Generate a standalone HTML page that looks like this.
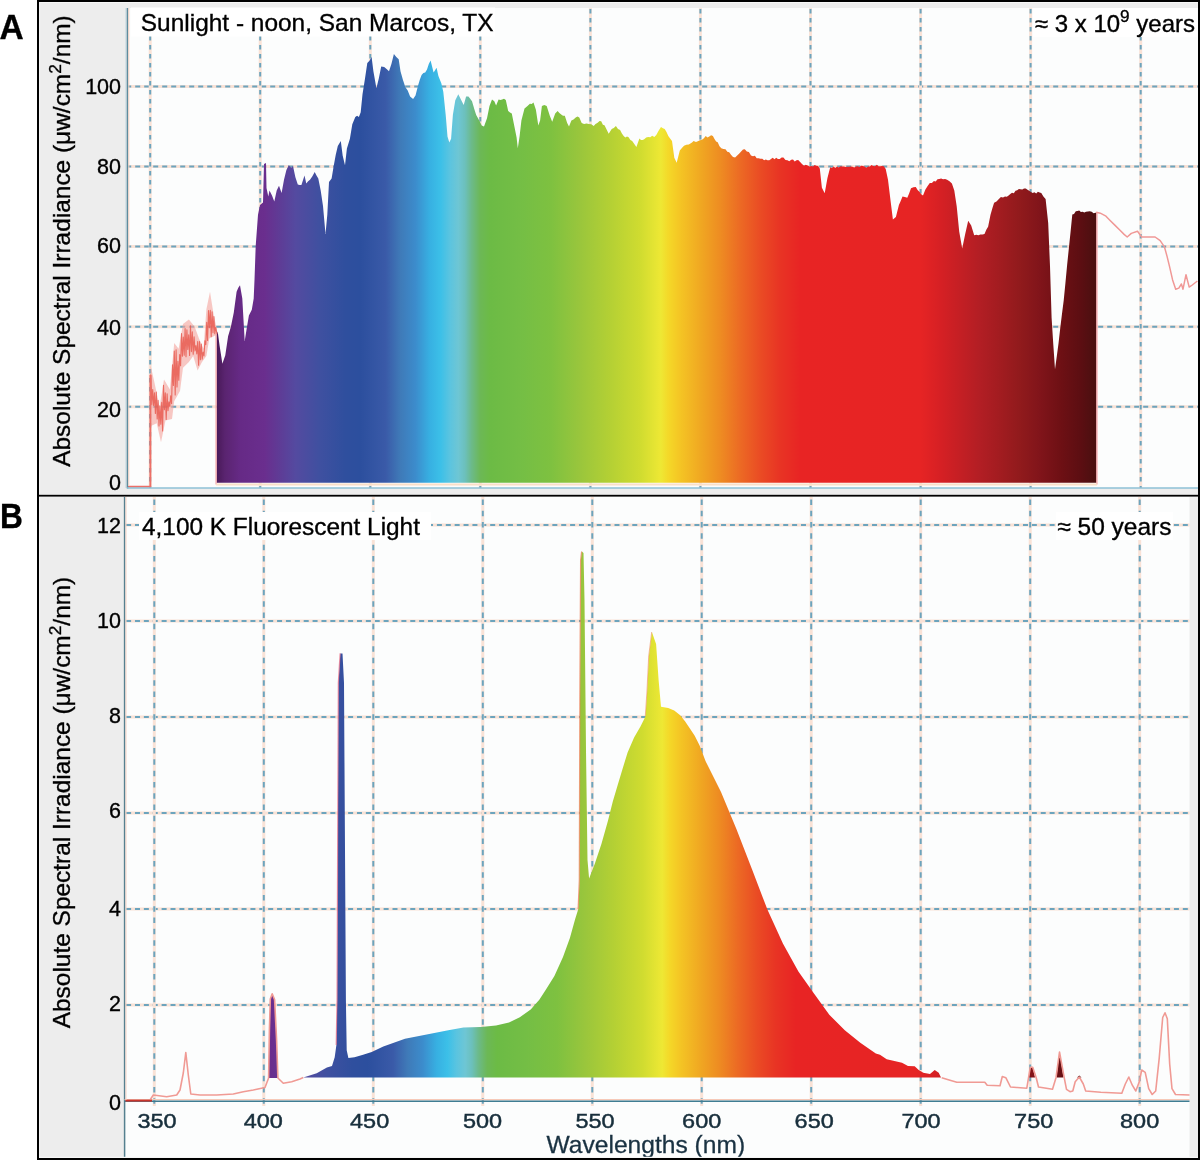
<!DOCTYPE html>
<html><head><meta charset="utf-8"><style>
html,body{margin:0;padding:0;background:#fff;width:1200px;height:1162px;overflow:hidden}
svg{display:block;filter:blur(0.4px);font-family:"Liberation Sans",sans-serif}
</style></head><body>
<svg width="1200" height="1162" viewBox="0 0 1200 1162">
<defs>
<linearGradient id="gA" gradientUnits="userSpaceOnUse" x1="216.2" y1="0" x2="1096.7" y2="0"><stop offset="0.0013" stop-color="#4a1a5a"/><stop offset="0.0100" stop-color="#5a2470"/><stop offset="0.0275" stop-color="#662a86"/><stop offset="0.0550" stop-color="#6a2e8e"/><stop offset="0.0725" stop-color="#5e3c96"/><stop offset="0.0900" stop-color="#544aa0"/><stop offset="0.1175" stop-color="#3f50a0"/><stop offset="0.1465" stop-color="#2f4f9e"/><stop offset="0.1638" stop-color="#2c4f9e"/><stop offset="0.1925" stop-color="#3a5aa8"/><stop offset="0.2090" stop-color="#3f7ab8"/><stop offset="0.2263" stop-color="#3c8ccc"/><stop offset="0.2425" stop-color="#37b0e2"/><stop offset="0.2550" stop-color="#3cc0e8"/><stop offset="0.2650" stop-color="#5ac4e0"/><stop offset="0.2750" stop-color="#6ec6d4"/><stop offset="0.2825" stop-color="#6cc0bc"/><stop offset="0.2900" stop-color="#6cba8a"/><stop offset="0.3000" stop-color="#6cb856"/><stop offset="0.3113" stop-color="#6cbb45"/><stop offset="0.3450" stop-color="#74be45"/><stop offset="0.3800" stop-color="#7ec140"/><stop offset="0.4138" stop-color="#9ac63c"/><stop offset="0.4475" stop-color="#b4d034"/><stop offset="0.4818" stop-color="#d0dc30"/><stop offset="0.5050" stop-color="#eee834"/><stop offset="0.5138" stop-color="#f4d828"/><stop offset="0.5275" stop-color="#f4c424"/><stop offset="0.5500" stop-color="#f0a822"/><stop offset="0.5725" stop-color="#ee8c22"/><stop offset="0.5950" stop-color="#ec6a24"/><stop offset="0.6175" stop-color="#ea4c24"/><stop offset="0.6400" stop-color="#e83424"/><stop offset="0.6637" stop-color="#e82424"/><stop offset="0.8000" stop-color="#e62424"/><stop offset="0.8225" stop-color="#d62024"/><stop offset="0.8450" stop-color="#c41f24"/><stop offset="0.8675" stop-color="#b21e24"/><stop offset="0.8900" stop-color="#a21c20"/><stop offset="0.9137" stop-color="#901a1c"/><stop offset="0.9363" stop-color="#80141a"/><stop offset="0.9590" stop-color="#6e1014"/><stop offset="0.9818" stop-color="#5c0e12"/><stop offset="0.9988" stop-color="#4a1010"/></linearGradient>
<linearGradient id="gB" gradientUnits="userSpaceOnUse" x1="220.0" y1="0" x2="1095.9" y2="0"><stop offset="0.0063" stop-color="#4a1a5a"/><stop offset="0.0150" stop-color="#5a2470"/><stop offset="0.0325" stop-color="#662a86"/><stop offset="0.0600" stop-color="#6a2e8e"/><stop offset="0.0775" stop-color="#5e3c96"/><stop offset="0.0950" stop-color="#544aa0"/><stop offset="0.1225" stop-color="#3f50a0"/><stop offset="0.1515" stop-color="#2f4f9e"/><stop offset="0.1688" stop-color="#2c4f9e"/><stop offset="0.1975" stop-color="#3a5aa8"/><stop offset="0.2140" stop-color="#3f7ab8"/><stop offset="0.2313" stop-color="#3c8ccc"/><stop offset="0.2475" stop-color="#37b0e2"/><stop offset="0.2600" stop-color="#3cc0e8"/><stop offset="0.2700" stop-color="#5ac4e0"/><stop offset="0.2800" stop-color="#6ec6d4"/><stop offset="0.2875" stop-color="#6cc0bc"/><stop offset="0.2950" stop-color="#6cba8a"/><stop offset="0.3050" stop-color="#6cb856"/><stop offset="0.3162" stop-color="#6cbb45"/><stop offset="0.3500" stop-color="#74be45"/><stop offset="0.3848" stop-color="#7ec140"/><stop offset="0.4172" stop-color="#9ac63c"/><stop offset="0.4496" stop-color="#b4d034"/><stop offset="0.4825" stop-color="#d0dc30"/><stop offset="0.5048" stop-color="#eee834"/><stop offset="0.5132" stop-color="#f4d828"/><stop offset="0.5264" stop-color="#f4c424"/><stop offset="0.5479" stop-color="#f0a822"/><stop offset="0.5695" stop-color="#ee8c22"/><stop offset="0.5910" stop-color="#ec6a24"/><stop offset="0.6126" stop-color="#ea4c24"/><stop offset="0.6342" stop-color="#e83424"/><stop offset="0.6575" stop-color="#e82424"/><stop offset="0.7937" stop-color="#e62424"/><stop offset="0.8163" stop-color="#d62024"/><stop offset="0.8387" stop-color="#c41f24"/><stop offset="0.8612" stop-color="#b21e24"/><stop offset="0.8838" stop-color="#a21c20"/><stop offset="0.9075" stop-color="#901a1c"/><stop offset="0.9300" stop-color="#80141a"/><stop offset="0.9528" stop-color="#6e1014"/><stop offset="0.9755" stop-color="#5c0e12"/><stop offset="0.9925" stop-color="#4a1010"/></linearGradient>
<filter id="gb" x="-5%" y="-5%" width="110%" height="110%"><feGaussianBlur stdDeviation="0.55"/></filter>
<clipPath id="cA"><rect x="128" y="8" width="1070" height="480"/></clipPath>
<clipPath id="cB"><rect x="125" y="497" width="1064.5" height="604.5"/></clipPath>
</defs>
<rect x="0" y="0" width="1200" height="1162" fill="#fff"/>
<rect x="39" y="2" width="1159" height="492.8" fill="#ededed"/>
<rect x="128" y="8" width="1070" height="480" fill="#fcfdfd"/>
<rect x="39" y="496.5" width="1159" height="661.5" fill="#ededed"/>
<rect x="125" y="497" width="1064.5" height="660" fill="#fcfdfd"/>
<g filter="url(#gb)"><line x1="128" y1="406.7" x2="1198" y2="406.7" stroke="#f9e2d6" stroke-width="3"/><line x1="128" y1="406.7" x2="1198" y2="406.7" stroke="#6ca4bd" stroke-width="2" stroke-dasharray="5 4" stroke-dashoffset="1.8"/><line x1="128" y1="326.7" x2="1198" y2="326.7" stroke="#f9e2d6" stroke-width="3"/><line x1="128" y1="326.7" x2="1198" y2="326.7" stroke="#6ca4bd" stroke-width="2" stroke-dasharray="5 4" stroke-dashoffset="1.8"/><line x1="128" y1="246.6" x2="1198" y2="246.6" stroke="#f9e2d6" stroke-width="3"/><line x1="128" y1="246.6" x2="1198" y2="246.6" stroke="#6ca4bd" stroke-width="2" stroke-dasharray="5 4" stroke-dashoffset="1.8"/><line x1="128" y1="166.6" x2="1198" y2="166.6" stroke="#f9e2d6" stroke-width="3"/><line x1="128" y1="166.6" x2="1198" y2="166.6" stroke="#6ca4bd" stroke-width="2" stroke-dasharray="5 4" stroke-dashoffset="1.8"/><line x1="128" y1="86.6" x2="1198" y2="86.6" stroke="#f9e2d6" stroke-width="3"/><line x1="128" y1="86.6" x2="1198" y2="86.6" stroke="#6ca4bd" stroke-width="2" stroke-dasharray="5 4" stroke-dashoffset="1.8"/><line x1="150.2" y1="8" x2="150.2" y2="488" stroke="#f9e2d6" stroke-width="3"/><line x1="150.2" y1="8" x2="150.2" y2="488" stroke="#6ca4bd" stroke-width="2" stroke-dasharray="4.6 4.4" stroke-dashoffset="-0.9"/><line x1="260.2" y1="8" x2="260.2" y2="488" stroke="#f9e2d6" stroke-width="3"/><line x1="260.2" y1="8" x2="260.2" y2="488" stroke="#6ca4bd" stroke-width="2" stroke-dasharray="4.6 4.4" stroke-dashoffset="-0.9"/><line x1="370.3" y1="8" x2="370.3" y2="488" stroke="#f9e2d6" stroke-width="3"/><line x1="370.3" y1="8" x2="370.3" y2="488" stroke="#6ca4bd" stroke-width="2" stroke-dasharray="4.6 4.4" stroke-dashoffset="-0.9"/><line x1="480.3" y1="8" x2="480.3" y2="488" stroke="#f9e2d6" stroke-width="3"/><line x1="480.3" y1="8" x2="480.3" y2="488" stroke="#6ca4bd" stroke-width="2" stroke-dasharray="4.6 4.4" stroke-dashoffset="-0.9"/><line x1="590.4" y1="8" x2="590.4" y2="488" stroke="#f9e2d6" stroke-width="3"/><line x1="590.4" y1="8" x2="590.4" y2="488" stroke="#6ca4bd" stroke-width="2" stroke-dasharray="4.6 4.4" stroke-dashoffset="-0.9"/><line x1="700.4" y1="8" x2="700.4" y2="488" stroke="#f9e2d6" stroke-width="3"/><line x1="700.4" y1="8" x2="700.4" y2="488" stroke="#6ca4bd" stroke-width="2" stroke-dasharray="4.6 4.4" stroke-dashoffset="-0.9"/><line x1="810.5" y1="8" x2="810.5" y2="488" stroke="#f9e2d6" stroke-width="3"/><line x1="810.5" y1="8" x2="810.5" y2="488" stroke="#6ca4bd" stroke-width="2" stroke-dasharray="4.6 4.4" stroke-dashoffset="-0.9"/><line x1="920.6" y1="8" x2="920.6" y2="488" stroke="#f9e2d6" stroke-width="3"/><line x1="920.6" y1="8" x2="920.6" y2="488" stroke="#6ca4bd" stroke-width="2" stroke-dasharray="4.6 4.4" stroke-dashoffset="-0.9"/><line x1="1030.6" y1="8" x2="1030.6" y2="488" stroke="#f9e2d6" stroke-width="3"/><line x1="1030.6" y1="8" x2="1030.6" y2="488" stroke="#6ca4bd" stroke-width="2" stroke-dasharray="4.6 4.4" stroke-dashoffset="-0.9"/><line x1="1140.7" y1="8" x2="1140.7" y2="488" stroke="#f9e2d6" stroke-width="3"/><line x1="1140.7" y1="8" x2="1140.7" y2="488" stroke="#6ca4bd" stroke-width="2" stroke-dasharray="4.6 4.4" stroke-dashoffset="-0.9"/></g>
<polygon points="216.7,482.8 216.7,334.4 217.7,331.5 219.6,345.8 222.4,363.8 225.3,355.2 228.1,336.3 230.9,326.8 233.8,312.6 236.6,291.8 238.3,287.8 240.0,285.2 242.3,298.4 244.7,341.0 247.0,326.8 248.9,315.5 251.8,309.8 253.7,298.4 254.5,279.8 255.7,246.0 258.0,214.7 260.0,205.0 263.0,202.6 264.0,164.0 266.0,163.0 266.5,188.0 268.3,196.6 269.5,190.6 272.0,195.4 274.3,201.4 276.7,190.6 279.0,185.8 281.6,193.0 284.0,179.8 286.4,170.0 288.8,165.3 291.2,167.7 293.0,166.0 295.4,177.3 297.8,184.6 299.6,184.9 301.4,185.0 304.5,175.5 306.3,183.4 308.1,181.3 310.0,179.8 312.4,176.2 314.7,172.0 316.5,175.6 318.3,178.5 320.7,190.6 323.0,206.0 325.5,234.0 327.3,214.7 329.0,182.0 331.6,178.5 333.6,166.5 335.7,155.1 337.8,146.0 340.8,141.0 342.7,155.7 345.0,165.3 346.9,148.4 349.9,138.8 352.3,124.3 355.3,117.0 357.1,115.7 358.9,117.0 360.7,112.3 362.5,94.2 365.0,78.5 367.3,62.9 369.5,60.8 371.6,56.9 373.4,71.3 376.4,88.2 378.8,78.5 381.2,66.5 384.2,67.1 386.6,68.9 389.0,71.3 391.4,64.1 393.9,53.9 396.3,56.9 398.7,59.3 400.5,71.3 402.9,79.8 405.3,87.0 407.7,90.6 410.1,96.6 413.1,99.0 415.5,95.4 418.0,85.8 419.8,79.7 421.6,74.9 423.4,73.0 425.2,72.5 427.0,69.6 428.8,64.1 430.6,60.5 433.6,72.5 436.6,67.7 438.4,76.1 441.4,83.4 443.3,91.8 445.7,114.7 447.5,136.4 449.3,142.4 451.1,138.8 452.9,114.7 455.3,100.2 458.3,94.2 461.3,100.2 463.7,105.0 466.1,96.6 468.4,96.5 470.2,98.8 472.0,101.3 474.5,109.8 476.2,114.9 478.0,118.2 479.9,121.7 481.7,125.4 484.0,126.6 487.0,118.2 489.5,106.0 492.0,99.5 494.3,101.3 496.1,105.5 498.6,99.5 500.4,99.9 502.2,99.5 504.0,98.8 505.8,100.0 508.2,111.0 510.0,112.6 511.8,113.4 514.2,125.4 516.6,137.5 517.8,148.3 519.6,136.3 521.4,120.6 524.5,108.6 527.5,106.1 529.9,103.7 531.7,104.1 533.5,102.5 535.9,109.8 538.3,125.4 540.1,120.6 541.9,106.1 544.3,105.0 546.7,106.1 549.8,115.8 552.2,121.8 555.2,113.4 557.6,111.0 559.4,112.9 561.2,114.6 563.0,115.8 564.8,115.8 567.2,123.0 569.0,126.6 571.4,120.6 573.5,119.5 575.7,117.6 577.5,116.5 579.3,117.6 581.7,123.0 584.1,124.0 586.5,123.6 588.9,124.1 591.3,124.2 593.7,126.0 595.5,124.0 597.3,123.0 599.6,121.0 601.2,121.2 602.9,124.8 604.5,125.3 606.6,129.4 608.7,133.7 611.7,129.0 613.8,128.1 615.9,126.0 618.0,129.0 620.1,130.0 621.9,133.6 623.7,136.0 625.3,137.5 627.0,136.6 628.6,137.3 630.4,139.9 632.2,141.0 634.3,143.9 636.4,147.0 639.4,138.6 641.0,139.9 642.6,140.0 644.2,139.2 646.2,137.5 648.2,137.0 650.2,137.3 652.2,135.8 654.3,137.0 656.3,135.0 658.6,130.8 661.0,127.0 662.9,128.3 664.7,129.0 666.5,132.0 668.3,136.0 670.1,138.5 672.0,141.0 674.3,157.8 676.7,162.7 679.8,150.6 681.9,147.9 684.0,145.8 686.4,144.8 688.8,144.6 690.4,143.6 692.0,142.4 693.6,141.0 696.0,142.1 698.4,141.0 700.2,140.2 702.0,139.7 703.9,138.3 705.7,136.1 707.5,137.4 709.3,136.5 711.1,135.2 712.9,136.1 714.5,139.1 716.1,141.4 717.7,142.2 719.5,146.3 721.3,148.2 723.4,148.9 725.5,149.3 727.3,151.7 729.2,152.2 731.0,154.8 733.0,157.0 735.1,157.5 737.2,155.6 739.3,153.4 741.1,151.5 743.0,149.5 744.8,149.3 746.8,151.6 748.9,152.0 751.0,155.4 753.0,156.2 754.9,155.8 756.7,158.3 758.6,158.2 760.4,158.7 762.3,158.7 764.1,160.3 765.8,159.4 767.5,160.3 769.3,160.2 771.0,158.9 772.7,157.7 774.5,159.2 776.2,157.7 777.9,158.9 779.7,159.0 781.6,157.5 783.4,157.5 785.5,159.9 787.5,160.3 789.3,161.3 791.2,159.8 793.0,159.6 794.7,161.4 796.5,160.2 798.2,160.1 799.9,161.7 802.0,164.0 804.0,165.8 805.8,164.8 807.7,165.5 809.5,166.5 811.2,166.1 813.0,166.4 814.7,165.1 816.4,165.8 818.1,166.0 819.8,168.5 821.9,187.8 824.7,193.3 827.4,178.2 830.2,167.2 831.9,168.0 833.6,166.4 835.3,167.9 837.0,166.5 838.7,167.5 840.5,166.2 842.2,166.4 843.9,166.6 845.6,166.9 847.3,166.7 849.1,166.7 850.8,166.5 852.5,166.8 854.2,167.6 856.0,166.5 857.7,166.3 859.4,167.1 861.1,165.8 862.9,166.0 864.6,166.5 866.3,167.7 868.1,166.4 869.8,166.4 871.6,165.0 873.3,166.0 875.0,166.3 876.8,164.8 878.5,166.3 880.3,166.3 882.0,165.9 883.9,166.3 885.7,168.9 888.0,179.8 890.5,200.2 892.9,219.5 895.9,217.1 898.9,205.0 900.7,201.1 902.5,196.6 904.9,197.1 907.3,197.8 909.1,193.5 911.0,188.2 913.4,187.2 915.8,187.0 917.6,189.9 919.4,191.8 921.2,194.2 923.0,195.4 925.4,189.4 927.8,185.8 929.8,183.1 931.9,183.1 933.9,181.0 935.7,181.6 937.5,179.2 939.3,179.1 941.1,178.6 943.1,179.2 945.1,178.9 947.1,179.8 949.5,181.2 951.9,183.4 954.3,190.6 956.7,206.3 959.2,231.6 962.2,248.4 965.2,234.0 968.2,220.7 971.2,225.5 974.2,235.2 976.3,234.7 978.4,235.2 980.4,234.5 982.5,234.6 984.5,234.0 986.3,229.8 988.1,226.7 990.5,214.7 992.3,208.4 994.1,202.7 996.5,201.6 998.9,199.0 1000.9,197.0 1003.0,197.6 1005.0,196.6 1006.8,196.7 1008.6,195.5 1010.3,194.0 1012.0,192.7 1013.8,193.2 1015.5,190.7 1017.2,190.3 1018.9,189.1 1020.6,189.3 1022.3,189.5 1024.0,188.6 1025.8,188.4 1027.5,189.8 1029.2,190.7 1031.0,192.0 1032.7,193.0 1034.4,192.2 1036.2,193.4 1037.9,191.8 1039.6,192.4 1041.3,193.0 1043.4,196.4 1045.6,199.0 1048.2,223.0 1050.0,266.0 1051.6,317.7 1053.3,344.5 1055.0,369.3 1056.8,356.3 1058.5,343.5 1060.2,328.5 1062.0,313.8 1063.7,300.5 1065.4,283.3 1067.1,265.2 1068.8,248.8 1070.5,232.4 1072.3,214.4 1074.0,214.1 1075.8,211.3 1077.5,211.0 1079.2,210.6 1080.9,212.1 1082.6,211.8 1084.3,212.4 1086.0,211.8 1087.9,211.6 1089.8,211.2 1091.7,211.8 1093.6,213.3 1095.5,212.7 1096.4,212.7 1096.4,482.8" fill="url(#gA)"/>
<line x1="216.1" y1="334" x2="216.1" y2="484.4" stroke="#f3a2a6" stroke-width="1.3"/>
<line x1="1096.9" y1="484.4" x2="1096.9" y2="212.5" stroke="#f3a2a6" stroke-width="1.3"/>
<line x1="216" y1="484.6" x2="1097" y2="484.6" stroke="#fbe0c8" stroke-width="2"/>
<polygon points="150.4,364.8 153.8,379.4 159.6,407.0 164.0,379.4 169.9,389.6 174.2,342.9 178.6,348.7 183.0,323.9 188.9,319.5 194.7,326.8 199.0,338.5 203.5,348.7 206.4,309.2 210.0,291.7 213.7,315.0 217.0,330.0 217.0,335.0 215.2,335.6 209.3,338.5 206.4,356.0 202.0,361.9 197.6,370.6 193.2,356.0 188.9,361.9 183.0,367.7 180.0,391.1 174.2,401.3 172.0,418.9 165.5,420.4 161.0,442.3 156.7,423.3 150.4,426.2" fill="#f4a49c" fill-opacity="0.6"/>
<polyline points="127.5,486.7 150.4,486.7 150.4,375.0 150.9,375.5 151.8,404.6 152.7,389.5 153.6,405.4 154.5,392.8 155.4,413.4 156.3,392.1 157.2,418.9 158.1,400.4 159.0,426.0 159.9,406.1 160.8,424.3 161.7,402.4 162.6,430.9 163.5,385.2 164.4,409.8 165.3,392.9 166.2,419.4 167.1,393.9 168.0,410.7 168.9,401.8 169.8,406.5 170.7,395.7 171.6,403.7 172.5,364.8 173.4,385.4 174.3,351.1 175.2,395.0 176.1,349.7 177.0,387.0 177.9,361.3 178.8,380.3 179.7,354.6 180.6,365.8 181.5,333.6 182.4,356.3 183.3,337.1 184.2,355.3 185.1,328.5 186.0,356.7 186.9,329.7 187.8,349.5 188.7,334.8 189.6,355.4 190.5,325.7 191.4,351.6 192.3,331.7 193.2,354.3 194.1,336.9 195.0,351.0 195.9,345.5 196.8,353.9 197.7,341.6 198.6,365.2 199.5,341.5 200.4,359.7 201.3,344.1 202.2,359.3 203.1,352.1 204.0,355.9 204.9,340.8 205.8,344.6 206.7,322.3 207.6,340.5 208.5,310.6 209.4,327.7 210.3,310.4 211.2,336.6 212.1,311.8 213.0,332.7 213.9,316.5 214.8,333.7 215.7,327.4 217.0,334.0" fill="none" stroke="#e85a50" stroke-width="1.1" stroke-linejoin="round" stroke-opacity="0.85"/>
<polyline points="127.5,486.7 150.4,486.7 150.4,374.8" fill="none" stroke="#ec6f68" stroke-width="1.8" stroke-linejoin="round"/>
<polyline points="1096.2,212.2 1100.3,213.2 1105.5,215.8 1109.6,220.0 1114.8,225.1 1120.0,230.3 1124.1,234.4 1127.2,237.0 1131.3,233.4 1137.5,231.3 1141.7,237.0 1155.1,237.0 1160.2,240.6 1164.4,246.8 1167.0,256.1 1169.5,266.4 1172.6,279.9 1175.7,289.2 1178.8,288.1 1181.4,284.0 1183.0,289.2 1186.0,274.7 1189.2,287.1 1192.3,285.0 1197.4,281.0" fill="none" stroke="#f09896" stroke-width="1.5" stroke-linejoin="round"/>
<line x1="125.8" y1="8" x2="125.8" y2="488" stroke="#d6e1e6" stroke-width="1.6"/>
<line x1="127.5" y1="8" x2="127.5" y2="488.5" stroke="#5f8c9e" stroke-width="1.6"/>
<line x1="127" y1="488" x2="1198" y2="488" stroke="#8ec1d6" stroke-width="1.6"/>
<line x1="128.8" y1="8" x2="128.8" y2="486" stroke="#f7d3c4" stroke-width="1"/>
<text x="121" y="490.0" font-size="21.5" text-anchor="end" fill="#000" stroke="#000" stroke-width="0.35">0</text><text x="121" y="416.5" font-size="21.5" text-anchor="end" fill="#000" stroke="#000" stroke-width="0.35">20</text><text x="121" y="335.2" font-size="21.5" text-anchor="end" fill="#000" stroke="#000" stroke-width="0.35">40</text><text x="121" y="253.0" font-size="21.5" text-anchor="end" fill="#000" stroke="#000" stroke-width="0.35">60</text><text x="121" y="173.7" font-size="21.5" text-anchor="end" fill="#000" stroke="#000" stroke-width="0.35">80</text><text x="121" y="93.9" font-size="21.5" text-anchor="end" fill="#000" stroke="#000" stroke-width="0.35">100</text>
<rect x="131" y="7.5" width="364" height="29" fill="#fff"/>
<text x="140.8" y="31.3" font-size="24.45" fill="#000" stroke="#000" stroke-width="0.35">Sunlight - noon, San Marcos, TX</text>
<rect x="1033" y="8" width="164" height="29" fill="#fff"/>
<text x="1195" y="31.7" font-size="24" text-anchor="end" fill="#000" stroke="#000" stroke-width="0.35">≈ 3 x 10<tspan font-size="17.2" dy="-9.4">9</tspan><tspan dy="9.4"> years</tspan></text>
<g filter="url(#gb)"><line x1="125" y1="1005.0" x2="1189.5" y2="1005.0" stroke="#f9e2d6" stroke-width="3"/><line x1="125" y1="1005.0" x2="1189.5" y2="1005.0" stroke="#6ca4bd" stroke-width="2" stroke-dasharray="5 3.88" stroke-dashoffset="-1.1"/><line x1="125" y1="909.0" x2="1189.5" y2="909.0" stroke="#f9e2d6" stroke-width="3"/><line x1="125" y1="909.0" x2="1189.5" y2="909.0" stroke="#6ca4bd" stroke-width="2" stroke-dasharray="5 3.88" stroke-dashoffset="-1.1"/><line x1="125" y1="813.0" x2="1189.5" y2="813.0" stroke="#f9e2d6" stroke-width="3"/><line x1="125" y1="813.0" x2="1189.5" y2="813.0" stroke="#6ca4bd" stroke-width="2" stroke-dasharray="5 3.88" stroke-dashoffset="-1.1"/><line x1="125" y1="717.0" x2="1189.5" y2="717.0" stroke="#f9e2d6" stroke-width="3"/><line x1="125" y1="717.0" x2="1189.5" y2="717.0" stroke="#6ca4bd" stroke-width="2" stroke-dasharray="5 3.88" stroke-dashoffset="-1.1"/><line x1="125" y1="621.0" x2="1189.5" y2="621.0" stroke="#f9e2d6" stroke-width="3"/><line x1="125" y1="621.0" x2="1189.5" y2="621.0" stroke="#6ca4bd" stroke-width="2" stroke-dasharray="5 3.88" stroke-dashoffset="-1.1"/><line x1="125" y1="525.0" x2="1189.5" y2="525.0" stroke="#f9e2d6" stroke-width="3"/><line x1="125" y1="525.0" x2="1189.5" y2="525.0" stroke="#6ca4bd" stroke-width="2" stroke-dasharray="5 3.88" stroke-dashoffset="-1.1"/><line x1="154.3" y1="497" x2="154.3" y2="1106" stroke="#f9e2d6" stroke-width="3"/><line x1="154.3" y1="497" x2="154.3" y2="1106" stroke="#6ca4bd" stroke-width="2" stroke-dasharray="5.5 5.8" stroke-dashoffset="-2.45"/><line x1="263.8" y1="497" x2="263.8" y2="1106" stroke="#f9e2d6" stroke-width="3"/><line x1="263.8" y1="497" x2="263.8" y2="1106" stroke="#6ca4bd" stroke-width="2" stroke-dasharray="5.5 5.8" stroke-dashoffset="-2.45"/><line x1="373.3" y1="497" x2="373.3" y2="1106" stroke="#f9e2d6" stroke-width="3"/><line x1="373.3" y1="497" x2="373.3" y2="1106" stroke="#6ca4bd" stroke-width="2" stroke-dasharray="5.5 5.8" stroke-dashoffset="-2.45"/><line x1="482.8" y1="497" x2="482.8" y2="1106" stroke="#f9e2d6" stroke-width="3"/><line x1="482.8" y1="497" x2="482.8" y2="1106" stroke="#6ca4bd" stroke-width="2" stroke-dasharray="5.5 5.8" stroke-dashoffset="-2.45"/><line x1="592.3" y1="497" x2="592.3" y2="1106" stroke="#f9e2d6" stroke-width="3"/><line x1="592.3" y1="497" x2="592.3" y2="1106" stroke="#6ca4bd" stroke-width="2" stroke-dasharray="5.5 5.8" stroke-dashoffset="-2.45"/><line x1="701.7" y1="497" x2="701.7" y2="1106" stroke="#f9e2d6" stroke-width="3"/><line x1="701.7" y1="497" x2="701.7" y2="1106" stroke="#6ca4bd" stroke-width="2" stroke-dasharray="5.5 5.8" stroke-dashoffset="-2.45"/><line x1="811.2" y1="497" x2="811.2" y2="1106" stroke="#f9e2d6" stroke-width="3"/><line x1="811.2" y1="497" x2="811.2" y2="1106" stroke="#6ca4bd" stroke-width="2" stroke-dasharray="5.5 5.8" stroke-dashoffset="-2.45"/><line x1="920.7" y1="497" x2="920.7" y2="1106" stroke="#f9e2d6" stroke-width="3"/><line x1="920.7" y1="497" x2="920.7" y2="1106" stroke="#6ca4bd" stroke-width="2" stroke-dasharray="5.5 5.8" stroke-dashoffset="-2.45"/><line x1="1030.2" y1="497" x2="1030.2" y2="1106" stroke="#f9e2d6" stroke-width="3"/><line x1="1030.2" y1="497" x2="1030.2" y2="1106" stroke="#6ca4bd" stroke-width="2" stroke-dasharray="5.5 5.8" stroke-dashoffset="-2.45"/><line x1="1139.7" y1="497" x2="1139.7" y2="1106" stroke="#f9e2d6" stroke-width="3"/><line x1="1139.7" y1="497" x2="1139.7" y2="1106" stroke="#6ca4bd" stroke-width="2" stroke-dasharray="5.5 5.8" stroke-dashoffset="-2.45"/></g>
<polygon points="303.3,1077.5 303.3,1077.5 316.7,1073.3 326.9,1067.6 332.0,1065.9 334.7,1057.2 336.4,1045.0 337.2,1000.0 338.5,683.0 340.3,653.4 342.5,653.4 344.0,683.0 345.9,1000.0 346.7,1050.3 348.4,1058.0 354.5,1057.2 363.1,1054.7 371.7,1052.0 383.3,1046.4 405.0,1038.8 426.7,1034.5 448.3,1030.2 463.5,1027.4 480.8,1026.9 496.0,1025.4 509.0,1022.6 519.8,1017.2 530.7,1009.6 539.3,999.8 545.8,989.7 554.4,976.0 563.0,957.0 569.9,938.1 575.1,919.2 578.3,909.0 579.5,880.0 580.0,700.0 580.8,560.0 581.8,551.5 583.5,553.0 584.5,600.0 586.0,750.0 587.5,860.0 589.1,878.4 594.8,863.7 601.4,844.0 607.9,821.1 612.8,801.5 617.7,785.1 622.6,768.7 627.6,752.4 634.1,737.6 640.6,726.2 644.7,718.0 645.5,716.0 647.1,692.0 648.9,656.0 651.9,632.0 656.1,644.0 658.6,680.0 661.0,706.7 668.2,708.0 674.2,710.4 680.2,715.2 685.0,721.2 689.9,728.4 694.7,735.7 699.5,745.3 705.5,761.0 721.0,792.0 736.4,829.0 752.0,869.3 767.4,909.6 782.9,943.6 798.4,971.5 813.8,993.2 829.3,1014.8 844.8,1030.3 860.3,1042.7 875.8,1053.5 880.0,1054.7 886.7,1059.3 893.3,1060.7 902.0,1062.7 908.0,1066.0 914.7,1066.3 918.7,1070.0 923.3,1072.7 930.0,1074.0 934.7,1070.0 938.7,1072.7 941.0,1077.5 941.0,1077.5" fill="url(#gB)"/>
<polygon points="268.6,1078.0 269.4,1030.0 270.3,999.0 272.2,993.8 274.6,999.6 276.6,1040.0 277.9,1078.0" fill="url(#gB)"/>
<polygon points="1029.0,1077.5 1030.3,1067.2 1032.7,1067.2 1035.0,1077.5" fill="url(#gB)"/>
<polygon points="1056.5,1077.5 1059.5,1052.0 1063.5,1077.5" fill="url(#gB)"/>
<polygon points="1077.0,1077.5 1079.3,1075.5 1081.5,1077.5" fill="url(#gB)"/>
<polyline points="124.5,1101.0 150.0,1100.0 153.3,1095.0 166.7,1096.7 176.7,1095.0 180.0,1090.0 183.3,1073.0 185.8,1052.5 188.3,1075.0 190.8,1094.0 200.0,1095.0 216.7,1095.0 233.3,1094.0 243.3,1091.7 253.3,1090.0 265.0,1087.5 268.6,1078.0 269.4,1030.0 270.3,999.0 272.2,993.8 274.6,999.6 276.6,1040.0 277.9,1078.0 283.3,1083.3 291.7,1081.7 300.0,1079.0 303.3,1077.5" fill="none" stroke="#f09a94" stroke-width="1.6" stroke-linejoin="round"/>
<polyline points="336.2,1045 337,1000 338.3,683 340.1,653.4" fill="none" stroke="#e8607a" stroke-width="1.2" stroke-opacity="0.65"/>
<polyline points="578.1,909 579.3,880 579.8,700 580.6,560 581.6,551.5" fill="none" stroke="#ec7a50" stroke-width="1.2" stroke-opacity="0.7"/>
<polyline points="645.3,716 646.9,692 648.7,656 651.7,632" fill="none" stroke="#f09060" stroke-width="1" stroke-opacity="0.6"/>
<polyline points="941.7,1077.7 947.5,1079.4 956.8,1082.3 984.8,1082.3 987.2,1085.3 1000.0,1085.8 1002.3,1076.5 1005.8,1077.7 1010.5,1087.0 1026.8,1088.2 1030.3,1067.2 1032.7,1067.2 1036.2,1077.7 1038.5,1087.0 1052.5,1089.3 1056.0,1077.7 1059.5,1052.0 1064.2,1077.7 1066.5,1089.3 1070.0,1091.7 1072.8,1091.0 1075.2,1081.7 1079.3,1077.0 1083.3,1084.0 1085.7,1091.0 1100.8,1092.2 1121.8,1093.3 1125.3,1084.0 1128.8,1077.0 1132.3,1085.2 1135.8,1091.0 1139.3,1081.7 1141.7,1070.0 1145.2,1072.3 1148.7,1088.7 1152.2,1094.5 1155.7,1091.0 1159.2,1058.3 1162.7,1017.5 1165.0,1012.8 1167.3,1018.7 1169.7,1064.2 1172.0,1088.7 1175.5,1094.5 1189.5,1095.0" fill="none" stroke="#f09a94" stroke-width="1.6" stroke-linejoin="round"/>
<line x1="124.6" y1="497" x2="124.6" y2="1158" stroke="#55808f" stroke-width="1.5"/>
<line x1="124.5" y1="1099.6" x2="1189.5" y2="1099.6" stroke="#f6c9b8" stroke-width="1.2"/>
<line x1="124.5" y1="1101.3" x2="1189.5" y2="1101.3" stroke="#3f7d93" stroke-width="1.6"/>
<line x1="125.5" y1="1100.6" x2="152" y2="1100.6" stroke="#c8342c" stroke-width="2"/>
<line x1="126" y1="497" x2="126" y2="1100" stroke="#f7d3c4" stroke-width="1"/>
<text x="121" y="1110.2" font-size="21.5" text-anchor="end" fill="#000" stroke="#000" stroke-width="0.35">0</text><text x="121" y="1011.2" font-size="21.5" text-anchor="end" fill="#000" stroke="#000" stroke-width="0.35">2</text><text x="121" y="915.9" font-size="21.5" text-anchor="end" fill="#000" stroke="#000" stroke-width="0.35">4</text><text x="121" y="817.5" font-size="21.5" text-anchor="end" fill="#000" stroke="#000" stroke-width="0.35">6</text><text x="121" y="722.5" font-size="21.5" text-anchor="end" fill="#000" stroke="#000" stroke-width="0.35">8</text><text x="121" y="627.5" font-size="21.5" text-anchor="end" fill="#000" stroke="#000" stroke-width="0.35">10</text><text x="121" y="532.8" font-size="21.5" text-anchor="end" fill="#000" stroke="#000" stroke-width="0.35">12</text><text transform="translate(157.0,1127.6) scale(1.12,1)" font-size="21" text-anchor="middle" fill="#182f3c" stroke="#182f3c" stroke-width="0.45">350</text><text transform="translate(263.3,1127.6) scale(1.12,1)" font-size="21" text-anchor="middle" fill="#182f3c" stroke="#182f3c" stroke-width="0.45">400</text><text transform="translate(369.6,1127.6) scale(1.12,1)" font-size="21" text-anchor="middle" fill="#182f3c" stroke="#182f3c" stroke-width="0.45">450</text><text transform="translate(482.5,1127.6) scale(1.12,1)" font-size="21" text-anchor="middle" fill="#182f3c" stroke="#182f3c" stroke-width="0.45">500</text><text transform="translate(595.0,1127.6) scale(1.12,1)" font-size="21" text-anchor="middle" fill="#182f3c" stroke="#182f3c" stroke-width="0.45">550</text><text transform="translate(701.7,1127.6) scale(1.12,1)" font-size="21" text-anchor="middle" fill="#182f3c" stroke="#182f3c" stroke-width="0.45">600</text><text transform="translate(814.2,1127.6) scale(1.12,1)" font-size="21" text-anchor="middle" fill="#182f3c" stroke="#182f3c" stroke-width="0.45">650</text><text transform="translate(921.0,1127.6) scale(1.12,1)" font-size="21" text-anchor="middle" fill="#182f3c" stroke="#182f3c" stroke-width="0.45">700</text><text transform="translate(1033.7,1127.6) scale(1.12,1)" font-size="21" text-anchor="middle" fill="#182f3c" stroke="#182f3c" stroke-width="0.45">750</text><text transform="translate(1139.6,1127.6) scale(1.12,1)" font-size="21" text-anchor="middle" fill="#182f3c" stroke="#182f3c" stroke-width="0.45">800</text>
<text x="546.5" y="1153.3" font-size="24.6" fill="#1a3242" stroke="#1a3242" stroke-width="0.3">Wavelengths (nm)</text>
<rect x="139" y="512" width="292" height="28" fill="#fff"/>
<text x="142" y="534.9" font-size="24.4" fill="#000" stroke="#000" stroke-width="0.35">4,100 K Fluorescent Light</text>
<rect x="1056" y="512" width="117" height="28" fill="#fff"/>
<text x="1171.5" y="534.9" font-size="24.5" text-anchor="end" fill="#000" stroke="#000" stroke-width="0.35">≈ 50 years</text>
<text transform="translate(70.4,466.8) rotate(-90)" font-size="24.45" fill="#000" stroke="#000" stroke-width="0.35">Absolute Spectral Irradiance (μw/cm<tspan font-size="17.3" dy="-9.6">2</tspan><tspan dy="9.6">/nm)</tspan></text>
<text transform="translate(70.4,1028.3) rotate(-90)" font-size="24.45" fill="#000" stroke="#000" stroke-width="0.35">Absolute Spectral Irradiance (μw/cm<tspan font-size="17.3" dy="-9.6">2</tspan><tspan dy="9.6">/nm)</tspan></text>
<rect x="39" y="1.8" width="1159" height="1.2" fill="#f7f7f7"/>
<rect x="39" y="2" width="1.2" height="492.8" fill="#f3f3f3"/>
<rect x="39" y="496.5" width="1.2" height="661.5" fill="#f3f3f3"/>
<rect x="39" y="1156.8" width="1159" height="1.2" fill="#f7f7f7"/>
<rect x="37" y="0" width="2" height="1160" fill="#000"/>
<rect x="1198" y="0" width="2" height="1160" fill="#000"/>
<rect x="37" y="0" width="1163" height="2" fill="#000"/>
<rect x="37" y="494.8" width="1163" height="1.8" fill="#000"/>
<rect x="37" y="1158" width="1163" height="2" fill="#000"/>
<text transform="translate(-0.6,38.9) scale(0.93,1)" font-size="36" font-weight="bold" fill="#000" stroke="#000" stroke-width="0.35">A</text>
<text transform="translate(0,528.1) scale(0.88,1)" font-size="36" font-weight="bold" fill="#000" stroke="#000" stroke-width="0.35">B</text>
</svg></body></html>
